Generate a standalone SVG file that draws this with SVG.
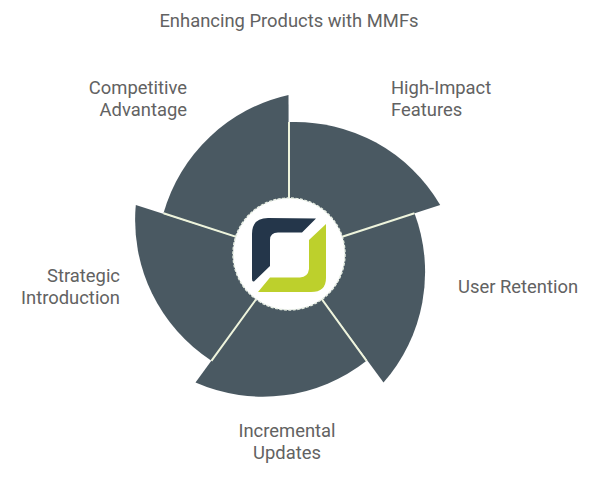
<svg xmlns="http://www.w3.org/2000/svg" width="600" height="477" viewBox="0 0 600 477">
<style>
text{font-family:Roboto,"Liberation Sans",sans-serif;font-size:18.4px;fill:#626262}
.p{fill:#4a5962}
.s{stroke:#eef4dc;stroke-width:2;fill:none}
</style>
<rect width="600" height="477" fill="#fff"/>
<text x="289" y="27" text-anchor="middle">Enhancing Products with MMFs</text>
<g id="high-impact"><path class="p" d="M289 254V122A168 168 0 0 1 440.2 204.9Z"/><text x="391" y="94">High-Impact</text><text x="391" y="116">Features</text></g>
<g id="user-retention"><path class="p" d="M289 254L414.5 213.2A168 168 0 0 1 383.500 382.600Z"/><text x="458" y="293">User Retention</text></g>
<g id="incremental"><path class="p" d="M289 254L366.6 360.8A168 168 0 0 1 195.5 382.6Z"/><text x="287" y="437" text-anchor="middle">Incremental</text><text x="287" y="459" text-anchor="middle">Updates</text></g>
<g id="strategic"><path class="p" d="M289 254L211.4 360.8A168 168 0 0 1 135.8 204.9Z"/><text x="120" y="282" text-anchor="end">Strategic</text><text x="120" y="304" text-anchor="end">Introduction</text></g>
<g id="competitive"><path class="p" d="M289 254L163.5 213.2A168 168 0 0 1 288.500 95Z"/><text x="187" y="94" text-anchor="end">Competitive</text><text x="187" y="116" text-anchor="end">Advantage</text></g>
<g id="connectors">
<path class="s" d="M289 254V122M289 254L414.5 213.2M289 254L366.6 360.8M289 254L211.4 360.8M289 254L163.5 213.2"/>
</g>
<g id="hub">
<circle cx="289" cy="254" r="56" fill="#fff" stroke="#e6ede2" stroke-width="1.500" stroke-dasharray="3 1.5"/>
<path fill="#24364a" d="M316 218.500L302 232.500H278Q270 232.500 270 240V266L254 281.500Q252 282 252 279V234Q252 218 268 218Z"/>
<path fill="#bdd02c" d="M326 224V278Q326 292 311 292H258L270 277.500H300Q308 277 309 269V240Z"/>
</g>
</svg>
